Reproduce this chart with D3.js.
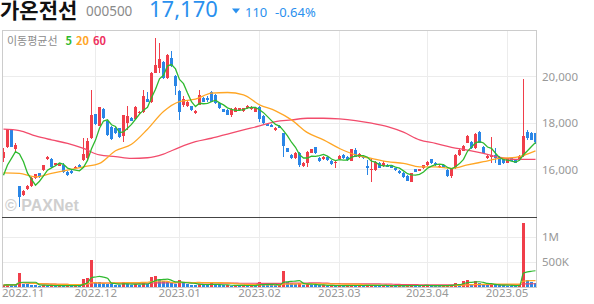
<!DOCTYPE html>
<html>
<head>
<meta charset="utf-8">
<script src="https://cdn.jsdelivr.net/npm/d3@7"></script>
<style>
  body { margin: 0; background: #fff; }
  svg { display: block; font-family: "Noto Sans CJK KR", "Noto Sans", sans-serif; }
</style>
</head>
<body>
<svg id="chart" width="594" height="304"></svg>
<script>
// daily candles, 2022-10-31 .. 2023-05-12 (one entry per trading day)
var opens = [16500,16950,17730,16880,15280,14890,15160,15290,15610,15830,15970,16430,16430,16190,16160,16210,15900,15930,16040,16210,
  16400,16470,17340,18370,17880,18590,18100,17840,17800,17760,17440,17990,18220,18160,18420,18450,19040,18890,20170,20360,
  20620,19930,20790,20030,19380,18780,18710,18710,18420,18780,19070,19070,19350,19210,18850,18590,18560,18350,18490,18560,
  18520,18630,18600,18490,18680,18300,17960,17910,17700,17870,17550,16910,16620,16470,16720,16140,16290,16720,16950,16500,
  16430,16550,16360,16260,16430,16620,16550,16370,16830,16520,16550,16140,15970,15970,16290,16140,16210,16190,16040,15940,
  15850,15710,15470,16000,15940,16040,16190,16430,16290,16110,16190,15970,15710,16040,16620,16800,17150,17190,16910,17630,
  16980,16470,16540,16620,16550,16470,16290,16470,16400,16430,16570,17630,17550,17550];
var highs = [16910,17730,17740,17150,15300,15100,15330,15680,15800,15850,16200,16590,16470,16290,16280,16260,15930,15960,16140,16240,
  17340,17340,19430,18400,18700,18630,18130,17870,17830,17790,18350,18710,18260,18720,18520,19430,19350,20200,21660,21440,
  20650,20970,21080,20060,19410,19140,18950,18740,18550,19430,19100,19170,19380,19240,18880,18620,18590,18630,18680,18660,
  18660,18760,18730,18680,18710,18330,17990,17940,17830,17900,17580,16930,16650,16750,16750,16310,16790,16890,16980,16530,
  16570,16580,16390,16360,16600,16650,16580,16890,16910,16690,16580,16400,16470,16360,16320,16360,16240,16210,16070,15970,
  15880,15740,15850,16030,16030,16210,16360,16460,16320,16170,16210,16000,16030,16650,16860,17030,17470,17220,17550,17660,
  17010,16600,17380,16910,16580,16500,16500,16500,16430,16600,19880,17700,17600,17580];
var lows = [16330,16900,16950,16690,14390,14850,15130,15260,15580,15650,15940,16400,16040,16150,16130,15830,15730,15800,16010,16090,
  16370,16400,17290,17920,17850,18170,17440,17260,17540,17350,17190,17700,18080,18130,18390,18420,18900,18860,20150,20150,
  19900,19900,20400,19210,18130,18700,18680,18530,18390,18750,18890,18880,18880,18820,18600,18460,18320,18240,18460,18530,
  18490,18600,18570,18460,18060,17960,17860,17810,17670,17770,16550,16730,16440,16440,16110,16110,16110,16690,16660,16330,
  16400,16370,16200,16080,16400,16440,16370,16340,16520,16490,16450,15750,15470,15940,16060,16110,16090,16060,15940,15800,
  15650,15480,15440,15870,15910,16010,16160,16240,16160,16080,16060,15680,15610,16010,16590,16780,17120,16880,16880,17120,
  16660,16440,16260,16260,16170,16230,16260,16340,16260,16400,16540,17250,17250,17100];
var closes = [16760,17730,16980,17050,14820,15060,15290,15640,15780,15680,16190,16550,16110,16260,16260,15900,15750,15830,16110,16110,
  16660,17220,18350,17960,18680,18200,17480,17290,17580,17380,18320,18300,18100,18690,18490,19170,18920,20150,20510,20750,
  19930,20940,20430,19570,18490,19020,18920,18560,18520,19210,18920,18990,18920,18850,18630,18490,18350,18600,18630,18630,
  18630,18730,18700,18630,18160,17990,17880,17840,17800,17800,17010,16760,16470,16720,16210,16290,16760,16860,16690,16360,
  16550,16400,16230,16330,16570,16470,16400,16860,16550,16660,16470,16080,16000,16330,16080,16260,16110,16080,15970,15830,
  15680,15510,15830,15900,16000,16190,16330,16290,16190,16140,16080,15710,16000,16620,16830,17000,17440,16910,17520,17120,
  16690,16570,16620,16470,16190,16260,16470,16370,16290,16570,17440,17330,17280,17170];
var volumes = [30,45,35,30,280,55,45,35,30,22,28,20,25,18,22,20,25,18,22,20,
  154,174,534,90,85,70,60,55,40,30,100,55,30,45,35,100,60,200,214,130,
  120,95,80,60,134,70,50,40,30,60,40,35,67,40,30,25,30,22,28,20,
  26,22,25,20,100,50,40,30,25,28,313,100,67,55,70,40,55,35,30,25,
  28,20,24,20,26,20,24,30,22,26,20,30,35,25,20,22,18,20,18,22,
  20,25,30,22,20,25,28,22,20,18,20,30,35,80,45,120,134,60,113,70,
  50,30,45,35,30,25,22,20,18,25,1280,134,87,67].map(function (v) { return v * 1000; });

var ma5Head = [15750, 16190, 16470, 16760];
var maSampleDays = [0,4,8,12,16,20,24,28,32,36,40,44,48,52,56,60,64,68,72,76,80,84,88,92,96,100,104,108,112,116,120,124,128,133];
var ma20Values = [15850,15830,15680,15830,15970,16110,16260,16800,17080,17730,18490,18920,19020,19280,19310,19210,18780,18520,18130,17580,
  17270,16900,16620,16470,16330,16260,16110,16110,16040,16190,16330,16470,16520,16800];
var ma60Values = [17730,17670,17440,17270,17120,16900,16620,16550,16470,16500,16660,16950,17190,17340,17520,17700,17870,18060,18130,18200,
  18200,18170,18100,17990,17840,17600,17270,17120,16950,16830,16690,16520,16430,16430];

var monthLabels = ['2022.11', '2022.12', '2023.01', '2023.02', '2023.03', '2023.04', '2023.05'];
var monthStarts = [1, 23, 44, 64, 84, 106, 126];
var priceTicks = [16000, 18000, 20000];
var volumeTicks = [500000, 1000000];
var volumeTickLabels = ['500K', '1M'];

var UP = '#f03e4a', DOWN = '#2a86e6';
var C5 = '#2fba2f', C20 = '#ffa625', C60 = '#f24c6c';

var svg = d3.select('#chart');
var L = 2, R = 537, PT = 30, PB = 217, VB = 286.7;

var x = d3.scaleBand().domain(d3.range(closes.length)).range([L, R]);
var cx = function (i) { return Math.floor(x(i) + x.bandwidth() / 2); };
var yP = d3.scaleLinear().domain([13950, 22000]).range([PB, PT]);
var yV = d3.scaleLinear().domain([0, 1394000]).range([VB, PB]);

// header
svg.append('text').attr('x', 0).attr('y', 17.5).attr('font-size', 21).attr('font-weight', 700)
  .attr('fill', '#111').text('가온전선');
svg.append('text').attr('x', 86).attr('y', 16).attr('font-size', 13.5).attr('fill', '#8a8a8a')
  .attr('font-family', 'Noto Sans').text('000500');
svg.append('text').attr('x', 149).attr('y', 17).attr('font-size', 22).attr('fill', '#2a90ee')
  .attr('font-family', 'Noto Sans').text('17,170');
svg.append('path').attr('d', 'M232,8.5 L240,8.5 L236,13.5 Z').attr('fill', '#2a90ee');
svg.append('text').attr('x', 245).attr('y', 17).attr('font-size', 13).attr('fill', '#2a90ee')
  .attr('font-family', 'Noto Sans').text('110');
svg.append('text').attr('x', 275).attr('y', 17).attr('font-size', 13).attr('fill', '#2a90ee')
  .attr('font-family', 'Noto Sans').text('-0.64%');

// grid
var grid = svg.append('g').attr('stroke', '#ececec').attr('stroke-width', 1).attr('shape-rendering', 'crispEdges');
grid.selectAll('.hp').data(priceTicks).join('line')
  .attr('x1', L).attr('x2', R).attr('y1', function (d) { return Math.round(yP(d)) + 0.5; })
  .attr('y2', function (d) { return Math.round(yP(d)) + 0.5; });
grid.selectAll('.hv').data(volumeTicks).join('line')
  .attr('x1', L).attr('x2', R).attr('y1', function (d) { return Math.round(yV(d)) + 0.5; })
  .attr('y2', function (d) { return Math.round(yV(d)) + 0.5; });
grid.selectAll('.vm').data(monthStarts.slice(1)).join('line')
  .attr('x1', function (d) { return cx(d) + 0.5; }).attr('x2', function (d) { return cx(d) + 0.5; })
  .attr('y1', PT).attr('y2', VB);

// watermark
svg.append('text').attr('x', 5).attr('y', 211).attr('font-size', 16).attr('font-weight', 700)
  .attr('font-family', 'Liberation Sans, Arial, sans-serif').attr('fill', '#cfcfcf').text('© PAXNet');

// legend
var legend = svg.append('text').attr('x', 7).attr('y', 45).attr('font-size', 11);
legend.append('tspan').attr('fill', '#8c8c8c').text('이동평균선');
legend.append('tspan').attr('dx', 8).attr('fill', C5).attr('font-weight', 700).text('5');
legend.append('tspan').attr('dx', 4).attr('fill', C20).attr('font-weight', 700).text('20');
legend.append('tspan').attr('dx', 4).attr('fill', '#ee3060').attr('font-weight', 700).text('60');

// candles
svg.append('clipPath').attr('id', 'pclip').append('rect').attr('x', L).attr('y', PT).attr('width', R - L).attr('height', PB - PT);
var price = svg.append('g').attr('clip-path', 'url(#pclip)');
var days = d3.range(closes.length);
var candle = price.selectAll('g.c').data(days).join('g').attr('shape-rendering', 'crispEdges')
  .attr('fill', function (i) { return closes[i] >= opens[i] ? UP : DOWN; })
  .attr('stroke', function (i) { return closes[i] >= opens[i] ? UP : DOWN; });
candle.append('line')
  .attr('x1', function (i) { return cx(i) + 0.5; }).attr('x2', function (i) { return cx(i) + 0.5; })
  .attr('y1', function (i) { return yP(highs[i]); }).attr('y2', function (i) { return yP(lows[i]); });
candle.append('rect').attr('stroke', 'none')
  .attr('x', function (i) { return cx(i) - 1; }).attr('width', 3)
  .attr('y', function (i) { return yP(Math.max(opens[i], closes[i])); })
  .attr('height', function (i) { return Math.max(1, Math.abs(yP(opens[i]) - yP(closes[i]))); });

// price moving averages
var ma5 = days.map(function (i) { return i < 4 ? ma5Head[i] : d3.mean(closes.slice(i - 4, i + 1)); });
var lineDay = d3.line().x(function (d) { return cx(d[0]) + 0.5; }).y(function (d) { return yP(d[1]); });
price.append('path').datum(maSampleDays.map(function (d, k) { return [d, ma60Values[k]]; }))
  .attr('fill', 'none').attr('stroke', C60).attr('stroke-width', 1.3)
  .attr('d', lineDay.curve(d3.curveMonotoneX));
price.append('path').datum(maSampleDays.map(function (d, k) { return [d, ma20Values[k]]; }))
  .attr('fill', 'none').attr('stroke', C20).attr('stroke-width', 1.3)
  .attr('d', lineDay.curve(d3.curveMonotoneX));
price.append('path').datum(days.map(function (i) { return [i, ma5[i]]; }))
  .attr('fill', 'none').attr('stroke', C5).attr('stroke-width', 1.3)
  .attr('d', lineDay.curve(d3.curveLinear));

// volume
var vol = svg.append('g');
vol.selectAll('rect').data(days).join('rect').attr('shape-rendering', 'crispEdges')
  .attr('x', function (i) { return cx(i) - 1; }).attr('width', 3)
  .attr('y', function (i) { return yV(volumes[i]); })
  .attr('height', function (i) { return VB - yV(volumes[i]); })
  .attr('fill', function (i) { return i === 0 || volumes[i] >= volumes[i - 1] ? UP : DOWN; });
function volMa(n) {
  return days.map(function (i) { return [i, d3.mean(volumes.slice(Math.max(0, i - n + 1), i + 1))]; });
}
var lineVol = d3.line().x(function (d) { return cx(d[0]) + 0.5; }).y(function (d) { return yV(d[1]); }).curve(d3.curveMonotoneX);
[[60, C60], [20, C20], [5, C5]].forEach(function (m) {
  vol.append('path').datum(volMa(m[0])).attr('fill', 'none').attr('stroke', m[1]).attr('stroke-width', 1.2).attr('d', lineVol);
});

// frame
svg.append('rect').attr('x', L + 0.5).attr('y', PT + 0.5).attr('width', R - L - 1).attr('height', VB - PT)
  .attr('fill', 'none').attr('stroke', '#cccccc').attr('shape-rendering', 'crispEdges');
svg.append('line').attr('x1', L).attr('x2', R).attr('y1', PB + 0.5).attr('y2', PB + 0.5)
  .attr('stroke', '#444').attr('shape-rendering', 'crispEdges');

// axes
var axisP = d3.axisRight(yP).tickValues(priceTicks).tickSize(0).tickPadding(5).tickFormat(d3.format(','));
var gP = svg.append('g').attr('transform', 'translate(' + R + ',0)').call(axisP);
var axisV = d3.axisRight(yV).tickValues(volumeTicks).tickSize(0).tickPadding(5)
  .tickFormat(function (d) { return volumeTickLabels[volumeTicks.indexOf(d)]; });
var gV = svg.append('g').attr('transform', 'translate(' + R + ',0)').call(axisV);
var axisX = d3.axisBottom(x).tickValues(monthStarts).tickSize(0).tickPadding(0)
  .tickFormat(function (d) { return monthLabels[monthStarts.indexOf(d)]; });
var gX = svg.append('g').attr('transform', 'translate(0,' + 289 + ')').call(axisX);
[gP, gV, gX].forEach(function (g) {
  g.select('.domain').remove();
  g.selectAll('text').attr('fill', '#999').attr('font-size', 11.5).attr('font-family', 'Noto Sans');
});
gX.selectAll('text').attr('dy', '0.71em');
gX.selectAll('.tick').each(function () {
  var t = d3.select(this).select('text');
  var w = t.node().getComputedTextLength();
  var tx = +d3.select(this).attr('transform').match(/translate\(([-\d.]+)/)[1];
  if (tx - w / 2 < L) t.attr('x', L + w / 2 - tx);
});
</script>
</body>
</html>
